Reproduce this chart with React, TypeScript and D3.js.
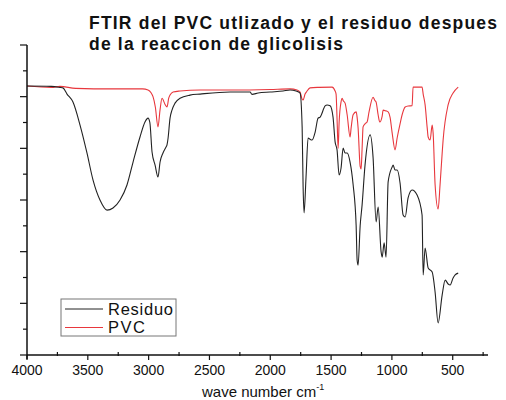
import { useEffect, useRef } from 'react';
import * as d3 from 'd3';

// wavenumber (cm-1) and transmittance (arbitrary %T)
const residuoWn = [4000, 3800, 3729, 3704, 3671, 3622, 3564, 3507, 3457, 3400, 3342, 3293, 3235, 3178, 3128, 3071, 3030, 3005, 2990, 2972, 2947, 2923, 2906, 2882, 2857, 2849, 2840, 2824, 2808, 2783, 2742, 2660, 2577, 2331, 2166, 2150, 2100, 2002, 1895, 1837, 1788, 1755, 1738, 1730, 1722, 1706, 1689, 1673, 1656, 1631, 1607, 1590, 1549, 1533, 1508, 1484, 1467, 1451, 1434, 1418, 1401, 1385, 1368, 1344, 1319, 1294, 1286, 1278, 1261, 1245, 1221, 1179, 1155, 1130, 1113, 1089, 1080, 1064, 1048, 1031, 998, 990, 974, 957, 933, 908, 891, 867, 834, 793, 752, 743, 727, 702, 669, 645, 620, 587, 562, 538, 521, 497, 480, 455];
const residuoT = [104.1, 104.0, 103.6, 103.4, 101, 97.9, 89.0, 78.2, 67.7, 60.0, 56.1, 56.9, 60.0, 65.8, 74.7, 84.4, 90.2, 91.7, 90, 78.6, 73.5, 68.9, 74.7, 78.2, 80.5, 81.3, 84.0, 91.7, 94.8, 97.5, 99.4, 100.6, 101.0, 101.8, 101.8, 100.9, 101.4, 101.8, 102.2, 102.6, 102.2, 101.4, 88.3, 65.0, 55.0, 68.9, 84.0, 83.5, 83.2, 86.3, 91.7, 92.1, 96.4, 96.8, 96.5, 92.1, 82.5, 79.4, 69.7, 72.4, 80.1, 78.2, 78.2, 74.7, 66, 50, 36.8, 34.8, 50, 58.1, 73.5, 85.2, 76.6, 51.5, 57.3, 40, 37.9, 43.4, 37.9, 67, 72.8, 73.5, 71.6, 71.6, 66.6, 54.2, 53.4, 60.8, 63.9, 61.9, 54.2, 31.0, 41.4, 33.7, 32.1, 24.4, 12.4, 23.2, 29.0, 27.5, 27.1, 29.8, 31.0, 31.7];

const pvcWn = [4000, 3800, 3729, 3600, 3300, 3050, 3005, 2980, 2964, 2945, 2923, 2906, 2890, 2865, 2849, 2835, 2824, 2799, 2742, 2577, 2300, 2000, 1837, 1780, 1755, 1738, 1730, 1714, 1700, 1673, 1600, 1492, 1467, 1459, 1450, 1442, 1434, 1418, 1409, 1401, 1385, 1368, 1344, 1335, 1319, 1294, 1286, 1278, 1261, 1253, 1245, 1237, 1221, 1204, 1188, 1155, 1140, 1130, 1113, 1100, 1080, 1072, 1050, 1031, 1015, 998, 974, 957, 933, 916, 891, 867, 834, 826, 752, 743, 727, 710, 702, 686, 669, 661, 645, 620, 604, 587, 579, 538, 497, 455];
const pvcT = [104.1, 103.6, 104.0, 103.2, 103.0, 103.0, 102.6, 101.5, 100, 96, 88.3, 95, 99.4, 97, 96.0, 99.4, 100.6, 101.8, 102.2, 102.6, 102.6, 102.8, 103.0, 102.6, 101.8, 99, 98.7, 101, 102, 103.4, 103.6, 103.7, 102.2, 101, 90, 80.0, 90, 98, 99.4, 98.5, 97.5, 93, 84.4, 88, 93, 94.1, 92, 88, 73, 72, 80, 88.3, 89.5, 90.2, 94.1, 99.8, 98.5, 97.9, 92.9, 90.2, 92.5, 94.8, 94.5, 94.1, 92, 86, 79.4, 84, 89.5, 93, 96.0, 96.4, 96.5, 103.7, 103.7, 101, 96.8, 88, 84.4, 83.2, 89.0, 85.9, 66, 56.5, 66, 78, 83.2, 96.8, 101.4, 103.7];

const xTicks = [4000, 3500, 3000, 2500, 2000, 1500, 1000, 500];
const xMinorTicks = [3750, 3250, 2750, 2250, 1750, 1250, 750, 250];
const yTicks = [0, 10, 20, 30, 40, 50, 60, 70, 80, 90, 100, 110, 120];

const legendItems = [
  { label: 'Residuo', color: '#222222', width: 65 },
  { label: 'PVC', color: '#e8373d', width: 37 },
];

export default function App() {
  const svgRef = useRef<SVGSVGElement>(null);

  useEffect(() => {
    if (!svgRef.current) return;
    const svg = d3.select(svgRef.current);
    svg.selectAll('*').remove();

    const x = d3.scaleLinear().domain([4000, 210]).range([27, 488]);
    const y = d3.scaleLinear().domain([0, 120]).range([355, 45]);
    const font = 'Liberation Sans, Arial, sans-serif';

    // title
    const title = svg.append('g')
      .style('font-family', font)
      .style('font-weight', 'bold')
      .style('font-size', '17.5px')
      .attr('fill', '#111');
    title.append('text').attr('x', 89).attr('y', 29)
      .attr('textLength', 408).attr('lengthAdjust', 'spacing')
      .text('FTIR del PVC utlizado y el residuo despues');
    title.append('text').attr('x', 89).attr('y', 50)
      .attr('textLength', 254).attr('lengthAdjust', 'spacing')
      .text('de la reaccion de glicolisis');

    // series
    const line = d3.line<[number, number]>()
      .x(d => x(d[0]))
      .y(d => y(d[1]))
      .curve(d3.curveMonotoneX);

    const pvc = pvcWn.map((w, i) => [w, pvcT[i]] as [number, number]);
    const res = residuoWn.map((w, i) => [w, residuoT[i]] as [number, number]);

    svg.append('path').datum(pvc)
      .attr('d', line)
      .attr('fill', 'none')
      .attr('stroke', '#e8373d')
      .attr('stroke-width', 1.1);

    svg.append('path').datum(res)
      .attr('d', line)
      .attr('fill', 'none')
      .attr('stroke', '#222')
      .attr('stroke-width', 1.1);

    // axes
    svg.append('line')
      .attr('x1', 27).attr('x2', 27).attr('y1', 45).attr('y2', 359)
      .attr('stroke', '#111').attr('stroke-width', 1.5);
    svg.append('line')
      .attr('x1', 27).attr('x2', 488).attr('y1', 355).attr('y2', 355)
      .attr('stroke', '#111').attr('stroke-width', 1.5);

    svg.append('g').selectAll('line')
      .data(yTicks)
      .join('line')
      .attr('x1', d => (d % 20 === 0 ? 20 : 23))
      .attr('x2', 27)
      .attr('y1', d => y(d))
      .attr('y2', d => y(d))
      .attr('stroke', '#111')
      .attr('stroke-width', 1.2);

    svg.append('g').selectAll('line')
      .data(xTicks)
      .join('line')
      .attr('x1', d => x(d))
      .attr('x2', d => x(d))
      .attr('y1', 355)
      .attr('y2', 360)
      .attr('stroke', '#111')
      .attr('stroke-width', 1.2);

    svg.append('g').selectAll('line')
      .data(xMinorTicks)
      .join('line')
      .attr('x1', d => x(d))
      .attr('x2', d => x(d))
      .attr('y1', 352)
      .attr('y2', 356)
      .attr('stroke', '#111')
      .attr('stroke-width', 1.2);

    svg.append('g').selectAll('text')
      .data(xTicks)
      .join('text')
      .attr('x', d => x(d))
      .attr('y', 375)
      .attr('text-anchor', 'middle')
      .style('font-family', font)
      .style('font-size', '14px')
      .attr('fill', '#111')
      .text(d => d.toString());

    // axis title
    const xt = svg.append('text')
      .attr('x', 202)
      .attr('y', 397)
      .style('font-family', font)
      .style('font-size', '15px')
      .attr('fill', '#111');
    xt.append('tspan').text('wave number cm');
    xt.append('tspan').attr('dy', -7).style('font-size', '9px').text('-1');

    // legend
    const lg = svg.append('g');
    lg.append('rect')
      .attr('x', 61).attr('y', 299).attr('width', 115).attr('height', 37)
      .attr('fill', 'white').attr('stroke', '#777').attr('stroke-width', 1);
    legendItems.forEach((item, i) => {
      const cy = 309 + i * 18.5;
      lg.append('line')
        .attr('x1', 65).attr('x2', 103).attr('y1', cy).attr('y2', cy)
        .attr('stroke', item.color).attr('stroke-width', 1);
      lg.append('text')
        .attr('x', 108).attr('y', cy + 5.5)
        .attr('textLength', item.width).attr('lengthAdjust', 'spacing')
        .style('font-family', font)
        .style('font-size', '16.5px')
        .attr('fill', '#111')
        .text(item.label);
    });
  }, []);

  return (
    <svg
      ref={svgRef}
      width={506}
      height={400}
      style={{ position: 'absolute', left: 0, top: 0, background: 'white' }}
    />
  );
}
